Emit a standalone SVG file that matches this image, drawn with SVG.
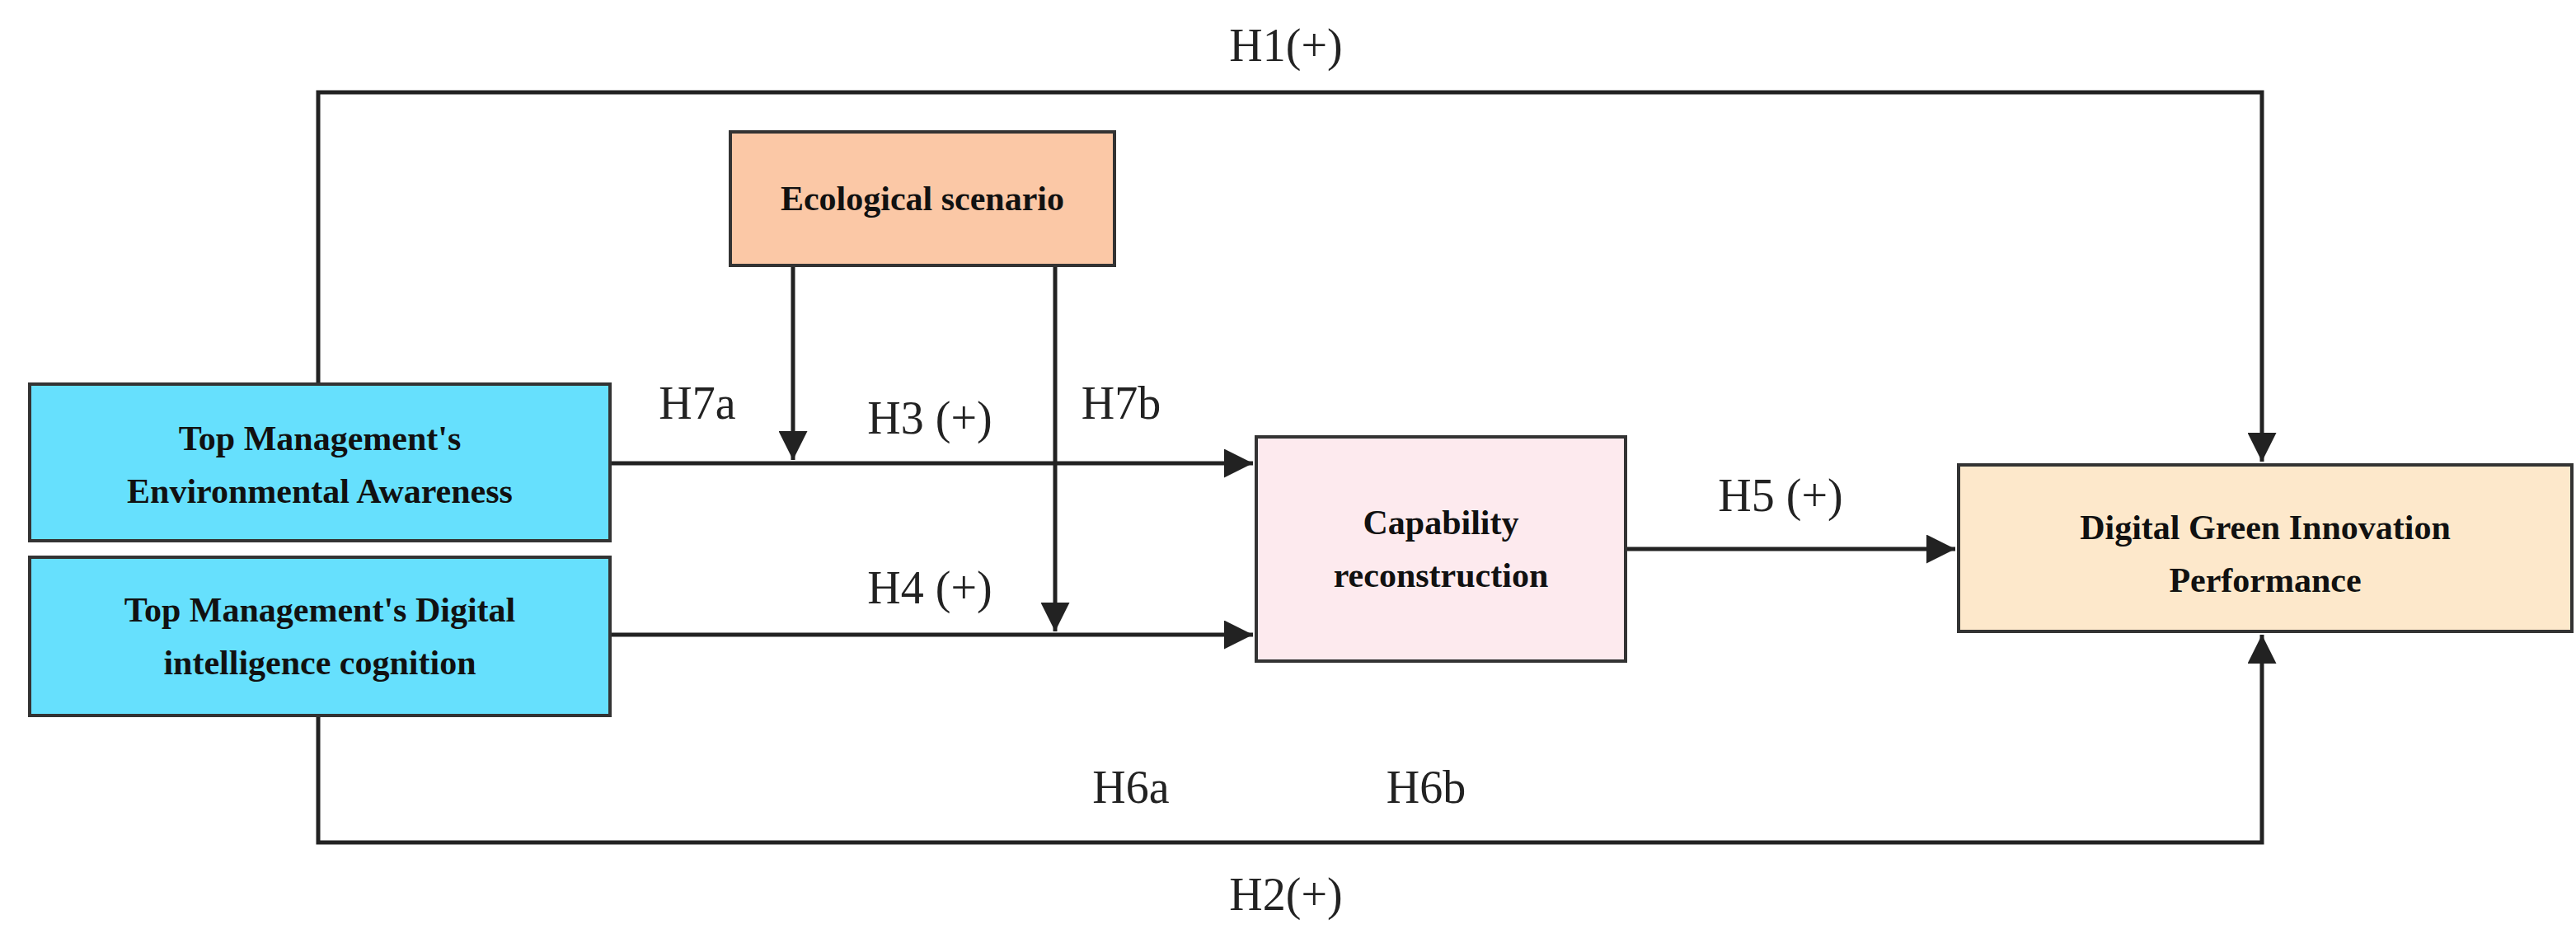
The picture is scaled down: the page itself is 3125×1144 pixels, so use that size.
<svg xmlns="http://www.w3.org/2000/svg" width="3125" height="1144" viewBox="0 0 3125 1144">
<style>
.box{stroke:#333;stroke-width:4}
.bt{font-family:"Liberation Serif",serif;font-weight:bold;font-size:42px;fill:#111;text-anchor:middle}
.lb{font-family:"Liberation Serif",serif;font-size:56px;fill:#222;text-anchor:middle}
.c{fill:none;stroke:#222;stroke-width:5}
</style>
<defs><marker id="a" viewBox="0 0 10 10" refX="10" refY="5" markerWidth="5" markerHeight="5" orient="auto" markerUnits="userSpaceOnUse" style="overflow:visible"><path d="M0,0L10,5L0,10z" fill="#222"/></marker>
<marker id="b" viewBox="0 0 10 10" refX="10" refY="5" markerWidth="7" markerHeight="7" orient="auto"><path d="M0,0L10,5L0,10z" fill="#222"/></marker></defs>
<rect width="3125" height="1144" fill="#fff"/>
<g id="connectors">
<path class="c" d="M386,466V112H2744V560" marker-end="url(#b)"/>
<path class="c" d="M386,868V1022H2744V770" marker-end="url(#b)"/>
<path class="c" d="M740,562H1520" marker-end="url(#b)"/>
<path class="c" d="M740,770H1520" marker-end="url(#b)"/>
<path class="c" d="M962,322V558" marker-end="url(#b)"/>
<path class="c" d="M1280,322V766" marker-end="url(#b)"/>
<path class="c" d="M1972,666H2372" marker-end="url(#b)"/>
</g>
<g id="eco"><rect class="box" x="886" y="160" width="466" height="162" fill="#fbc8a6"/><text class="bt" x="1119" y="255">Ecological scenario</text></g>
<g id="env"><rect class="box" x="36" y="466" width="704" height="190" fill="#66e0fd"/><text class="bt" x="388" y="546">Top Management's</text><text class="bt" x="388" y="610">Environmental Awareness</text></g>
<g id="dig"><rect class="box" x="36" y="676" width="704" height="192" fill="#66e0fd"/><text class="bt" x="388" y="754">Top Management's Digital</text><text class="bt" x="388" y="818">intelligence cognition</text></g>
<g id="cap"><rect class="box" x="1524" y="530" width="448" height="272" fill="#fdeaee"/><text class="bt" x="1748" y="648">Capability</text><text class="bt" x="1748" y="712">reconstruction</text></g>
<g id="dgip"><rect class="box" x="2376" y="564" width="744" height="202" fill="#fde8cb"/><text class="bt" x="2748" y="654">Digital Green Innovation</text><text class="bt" x="2748" y="718">Performance</text></g>
<g id="labels">
<text class="lb" x="1560" y="74">H1(+)</text>
<text class="lb" x="1560" y="1104">H2(+)</text>
<text class="lb" x="846" y="508">H7a</text>
<text class="lb" x="1360" y="508">H7b</text>
<text class="lb" x="1128" y="526">H3 (+)</text>
<text class="lb" x="1128" y="732">H4 (+)</text>
<text class="lb" x="2160" y="620">H5 (+)</text>
<text class="lb" x="1372" y="974">H6a</text>
<text class="lb" x="1730" y="974">H6b</text>
</g>
</svg>
